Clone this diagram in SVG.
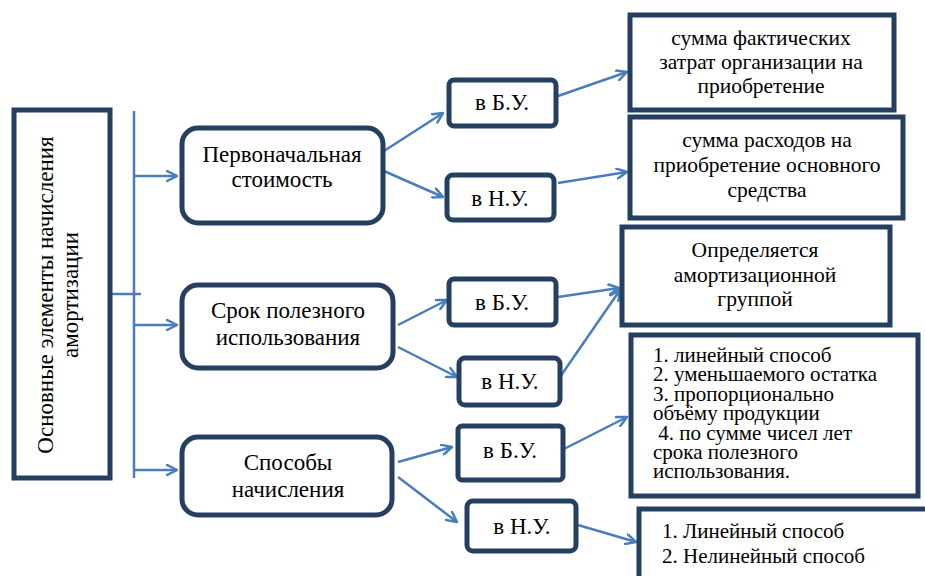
<svg xmlns="http://www.w3.org/2000/svg" width="925" height="576" viewBox="0 0 925 576" font-family="Liberation Serif">
<style>
.box{fill:#fff;stroke:#243F60;stroke-width:5}
.t{font-size:23px;fill:#000;text-anchor:middle}
.tb{font-size:21.5px;fill:#000;text-anchor:middle}
.tl{font-size:21px;fill:#000}
.c{fill:none;stroke:#4A7EBB;stroke-width:2.5}
.ca{fill:none;stroke:#4A7EBB;stroke-width:2.5;marker-end:url(#ar)}
</style>
<defs>
<marker id="ar" viewBox="0 0 12 12" refX="11" refY="6" markerWidth="12" markerHeight="12" markerUnits="userSpaceOnUse" orient="auto">
<path d="M1,1 L11,6 L1,11" fill="none" stroke="#4A7EBB" stroke-width="2.5" stroke-linecap="round" stroke-linejoin="round"/>
</marker>
</defs>
<g id="connectors">
<line class="c" x1="134" y1="111" x2="134" y2="478"/>
<line class="c" x1="110" y1="294" x2="141" y2="294"/>
<line class="ca" x1="134" y1="176" x2="177" y2="176"/>
<line class="ca" x1="134" y1="325" x2="177" y2="325"/>
<line class="ca" x1="134" y1="470" x2="177" y2="470"/>
<line class="ca" x1="384" y1="151" x2="443" y2="113"/>
<line class="ca" x1="384" y1="171" x2="443" y2="197"/>
<line class="ca" x1="558" y1="96" x2="627" y2="72"/>
<line class="ca" x1="558" y1="183" x2="627" y2="172"/>
<line class="ca" x1="398" y1="325" x2="447" y2="300"/>
<line class="ca" x1="398" y1="347" x2="457" y2="377"/>
<line class="ca" x1="558" y1="297" x2="619" y2="288"/>
<line class="ca" x1="560" y1="377" x2="620" y2="290"/>
<line class="ca" x1="398" y1="462" x2="452" y2="447"/>
<line class="ca" x1="398" y1="477" x2="457" y2="522"/>
<line class="ca" x1="558" y1="452" x2="627" y2="417"/>
<line class="ca" x1="578" y1="525" x2="636" y2="542"/>
</g>
<g id="root">
<rect class="box" x="14" y="110" width="96" height="368"/>
<text class="t" transform="translate(53,295) rotate(-90)" x="0" y="0" font-size="25.5">Основные элементы начисления</text>
<text class="t" transform="translate(78,295) rotate(-90)" x="0" y="0" font-size="25.5">амортизации</text>
</g>
<g id="n1">
<rect class="box" x="182" y="128" width="201" height="95" rx="16"/>
<text class="t" x="282" y="162">Первоначальная</text>
<text class="t" x="282" y="187">стоимость</text>
</g>
<g id="n2">
<rect class="box" x="182" y="285" width="211" height="83" rx="16"/>
<text class="t" x="288" y="318">Срок полезного</text>
<text class="t" x="288" y="345">использования</text>
</g>
<g id="n3">
<rect class="box" x="182" y="437" width="210" height="78" rx="16"/>
<text class="t" x="288" y="470">Способы</text>
<text class="t" x="288" y="497">начисления</text>
</g>
<g id="bu1">
<rect class="box" x="449" y="80" width="107" height="46" rx="5"/>
<text class="t" x="502" y="110">в Б.У.</text>
</g>
<g id="nu1">
<rect class="box" x="447" y="175" width="107" height="45" rx="6"/>
<text class="t" x="500" y="206">в Н.У.</text>
</g>
<g id="bu2">
<rect class="box" x="449" y="279" width="107" height="46" rx="5"/>
<text class="t" x="502" y="310">в Б.У.</text>
</g>
<g id="nu2">
<rect class="box" x="459" y="358" width="101" height="47" rx="6"/>
<text class="t" x="510" y="389">в Н.У.</text>
</g>
<g id="bu3">
<rect class="box" x="458" y="426" width="105" height="54" rx="4"/>
<text class="t" x="510" y="458">в Б.У.</text>
</g>
<g id="nu3">
<rect class="box" x="467" y="501" width="109" height="50" rx="6"/>
<text class="t" x="522" y="534">в Н.У.</text>
</g>
<g id="r1">
<rect class="box" x="630" y="15" width="264" height="95"/>
<text class="tb" x="761" y="45">сумма фактических</text>
<text class="tb" x="761" y="69">затрат организации на</text>
<text class="tb" x="761" y="93">приобретение</text>
</g>
<g id="r2">
<rect class="box" x="630" y="117" width="273" height="101"/>
<text class="tb" x="767" y="147">сумма расходов на</text>
<text class="tb" x="767" y="172">приобретение основного</text>
<text class="tb" x="767" y="197">средства</text>
</g>
<g id="r3">
<rect class="box" x="622" y="227" width="268" height="98"/>
<text class="tb" x="755" y="257">Определяется</text>
<text class="tb" x="755" y="282">амортизационной</text>
<text class="tb" x="755" y="306">группой</text>
</g>
<g id="r4">
<rect class="box" x="631" y="335" width="287" height="161"/>
<text class="tl" x="653" y="362">1. линейный способ</text>
<text class="tl" x="653" y="381">2. уменьшаемого остатка</text>
<text class="tl" x="653" y="401">3. пропорционально</text>
<text class="tl" x="653" y="420">объёму продукции</text>
<text class="tl" x="653" y="440" xml:space="preserve"> 4. по сумме чисел лет</text>
<text class="tl" x="653" y="459">срока полезного</text>
<text class="tl" x="653" y="478">использования.</text>
</g>
<g id="r5">
<rect class="box" x="639" y="509" width="300" height="80"/>
<text class="tl" x="662" y="538">1. Линейный способ</text>
<text class="tl" x="662" y="563">2. Нелинейный способ</text>
</g>
</svg>
